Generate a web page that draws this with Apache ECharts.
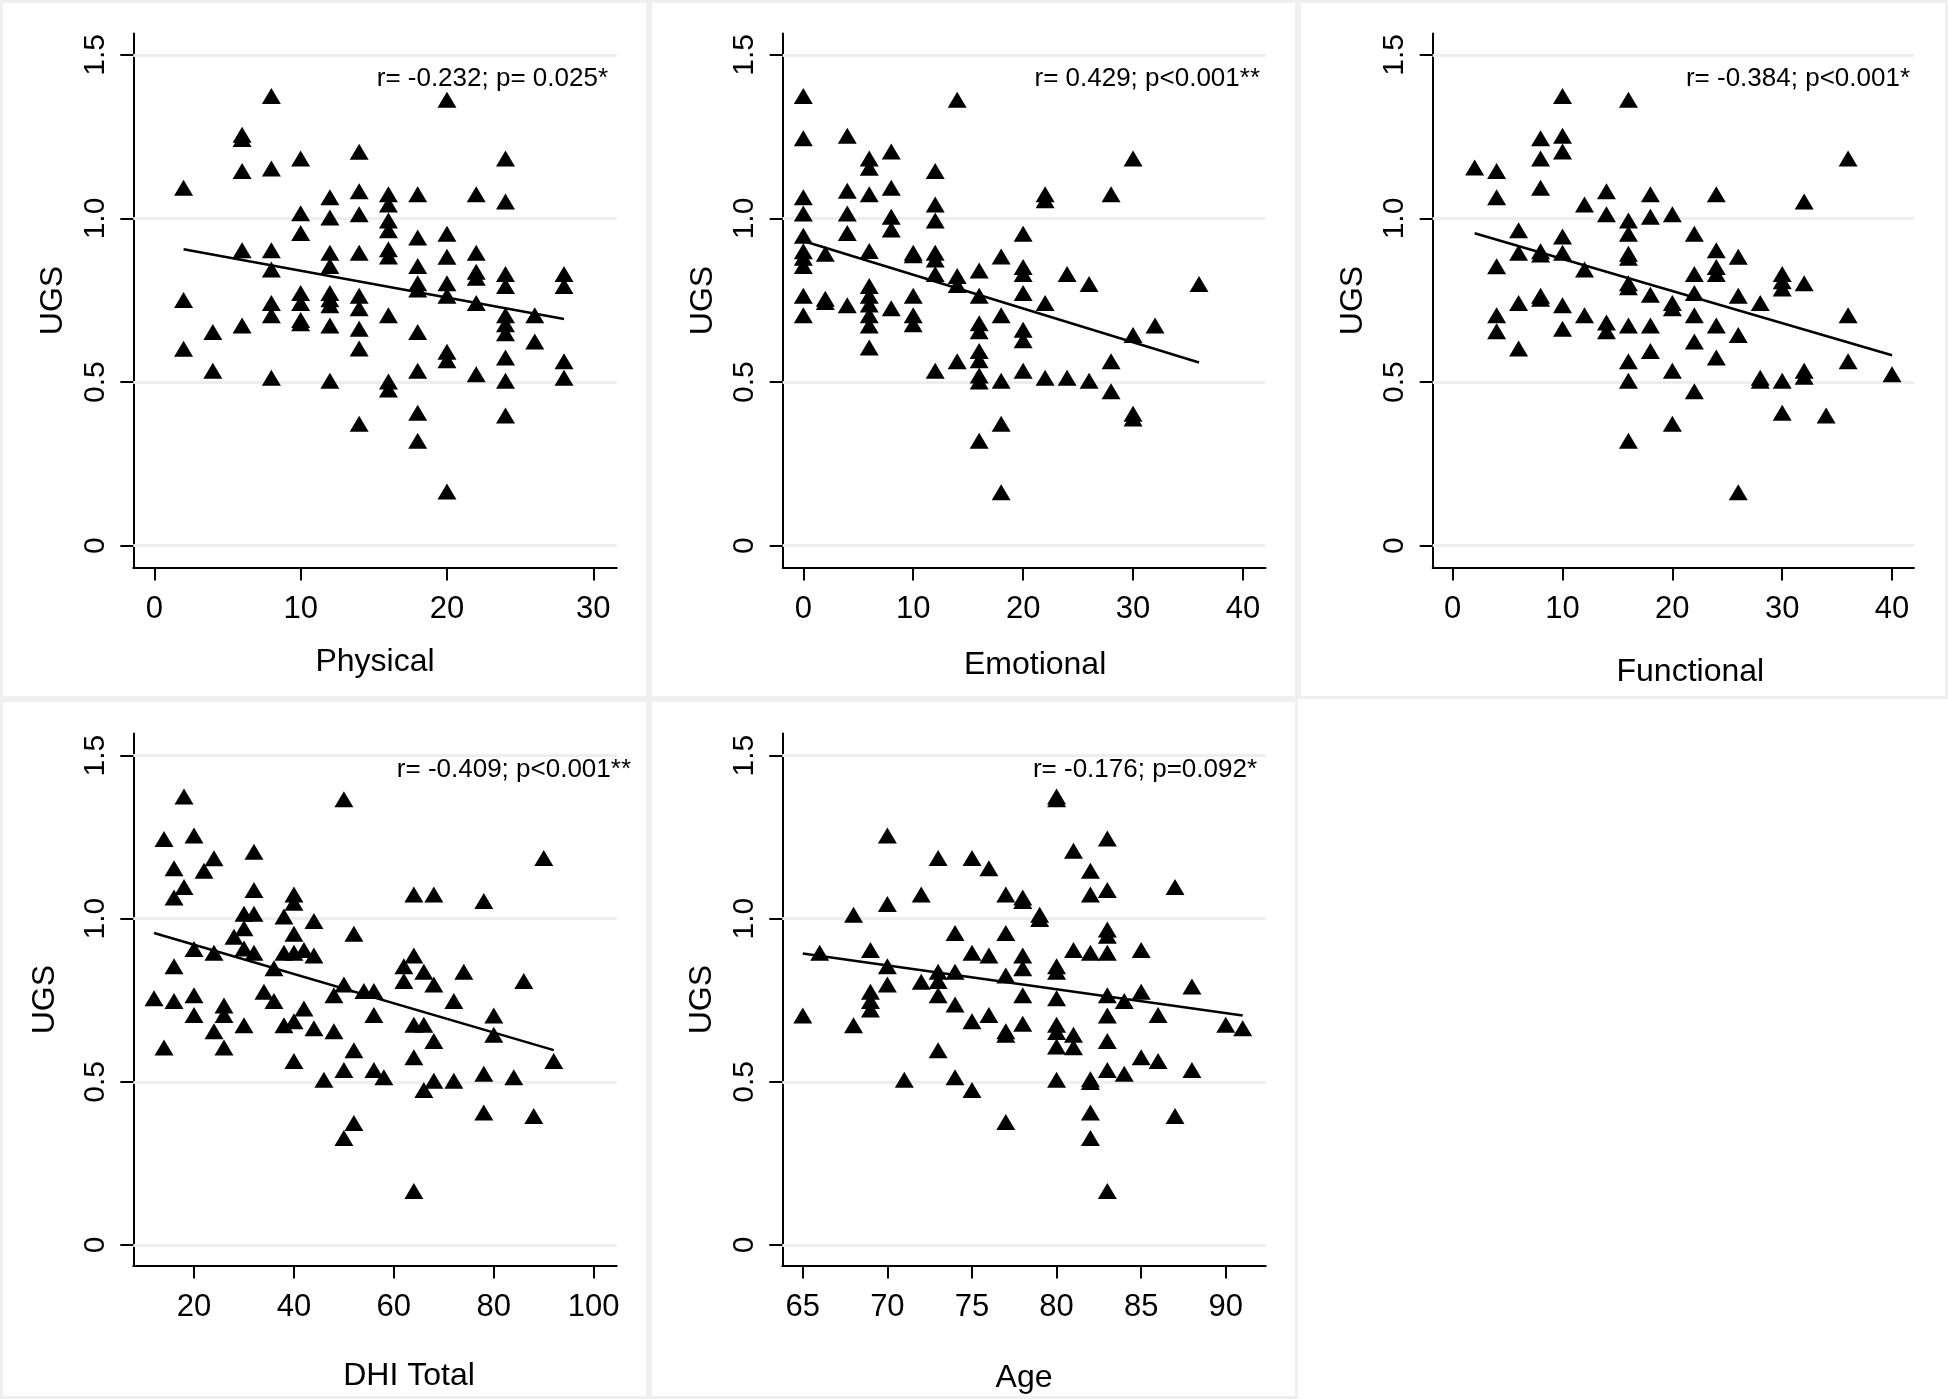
<!DOCTYPE html>
<html>
<head>
<meta charset="utf-8">
<script src="https://cdn.jsdelivr.net/npm/echarts@6/dist/echarts.min.js"></script>
<style>
html,body{margin:0;padding:0;background:#fff;}
#main{width:1948px;height:1399px;}
</style>
</head>
<body>
<div id="main"></div>
<script>
var FONT = '"Liberation Sans", Arial, Helvetica, sans-serif';
var yTicks = [0, 0.5, 1.0, 1.5];

// Physical
var physCols = [2, 4, 6, 8, 10, 12, 14, 16, 18, 20, 22, 24, 26, 28];
var physVals = [
  [1.094, 0.751, 0.602],
  [0.653, 0.535],
  [1.256, 1.243, 1.145, 0.903, 0.673],
  [1.374, 1.153, 0.903, 0.844, 0.742, 0.704, 0.513],
  [1.183, 1.016, 0.956, 0.772, 0.742, 0.690, 0.680],
  [1.065, 1.003, 0.895, 0.855, 0.772, 0.753, 0.735, 0.673, 0.504],
  [1.204, 1.083, 1.013, 0.895, 0.764, 0.726, 0.663, 0.603, 0.373],
  [1.074, 1.043, 0.994, 0.964, 0.906, 0.884, 0.704, 0.502, 0.477],
  [1.074, 0.942, 0.855, 0.802, 0.783, 0.653, 0.535, 0.406, 0.321],
  [1.363, 0.953, 0.883, 0.802, 0.764, 0.593, 0.567, 0.166],
  [1.074, 0.895, 0.837, 0.819, 0.742, 0.524],
  [1.183, 1.052, 0.830, 0.794, 0.704, 0.677, 0.649, 0.575, 0.504, 0.398],
  [0.704, 0.624],
  [0.830, 0.794, 0.564, 0.513]
];
var physFitX = [2, 28];
var physFitY = [0.906, 0.693];
var physTicks = [0, 10, 20, 30];

// Emotional
var emoCols = [0, 2, 4, 6, 8, 10, 12, 14, 16, 18, 20, 22, 24, 26, 28, 30, 32, 36];
var emoVals = [
  [1.374, 1.245, 1.065, 1.015, 0.947, 0.900, 0.880, 0.855, 0.764, 0.704],
  [0.892, 0.755, 0.745],
  [1.253, 1.085, 1.015, 0.956, 0.735],
  [1.183, 1.155, 1.074, 0.901, 0.794, 0.764, 0.737, 0.704, 0.673, 0.606],
  [1.205, 1.094, 1.005, 0.966, 0.726],
  [0.895, 0.888, 0.764, 0.704, 0.677],
  [1.145, 1.043, 0.994, 0.895, 0.875, 0.830, 0.535],
  [1.363, 0.824, 0.797, 0.564],
  [0.841, 0.764, 0.680, 0.655, 0.595, 0.567, 0.520, 0.502, 0.321],
  [0.884, 0.704, 0.504, 0.373, 0.163],
  [0.953, 0.852, 0.830, 0.772, 0.660, 0.628, 0.535],
  [1.074, 1.056, 0.742, 0.513],
  [0.830, 0.513],
  [0.800, 0.504],
  [1.074, 0.564, 0.472],
  [1.183, 0.644, 0.403, 0.389],
  [0.673],
  [0.800]
];
var emoFitX = [0, 36];
var emoFitY = [0.931, 0.560];
var emoTicks = [0, 10, 20, 30, 40];

// Functional
var funCols = [2, 4, 6, 8, 10, 12, 14, 16, 18, 20, 22, 24, 26, 28, 30, 32, 34, 36, 40];
var funVals = [
  [1.156],
  [1.145, 1.065, 0.854, 0.704, 0.655],
  [0.964, 0.895, 0.742, 0.603],
  [1.245, 1.183, 1.094, 0.900, 0.890, 0.764, 0.755],
  [1.374, 1.253, 1.205, 0.945, 0.895, 0.735, 0.663],
  [1.043, 0.844, 0.704],
  [1.083, 1.013, 0.682, 0.655],
  [1.363, 0.994, 0.953, 0.892, 0.880, 0.802, 0.790, 0.673, 0.564, 0.504, 0.321],
  [1.074, 1.005, 0.767, 0.673, 0.595],
  [1.013, 0.742, 0.726, 0.535, 0.373],
  [0.953, 0.830, 0.772, 0.704, 0.624, 0.472],
  [1.074, 0.903, 0.852, 0.830, 0.673, 0.575],
  [0.883, 0.764, 0.644, 0.163],
  [0.742, 0.513, 0.504],
  [0.830, 0.808, 0.786, 0.504, 0.406],
  [1.052, 0.802, 0.535, 0.516],
  [0.398],
  [1.183, 0.704, 0.564],
  [0.524]
];
var funFitX = [2, 40];
var funFitY = [0.955, 0.582];
var funTicks = [0, 10, 20, 30, 40];

// DHI Total
var dhiCols = [12, 14, 16, 18, 20, 22, 24, 26, 28, 30, 32, 34, 36, 38, 40, 42, 44, 46, 48, 50,
  52, 54, 56, 58, 62, 64, 66, 68, 72, 74, 78, 80, 84, 86, 88, 90, 92];
var dhiVals = [
  [0.756],
  [1.244, 0.605],
  [1.155, 1.065, 0.854, 0.748],
  [1.375, 1.097],
  [1.255, 0.907, 0.765, 0.705],
  [1.147],
  [1.185, 0.896, 0.655],
  [0.734, 0.705, 0.605],
  [0.945],
  [1.015, 0.971, 0.909, 0.673],
  [1.205, 1.088, 1.015, 0.896],
  [0.776],
  [0.848, 0.748],
  [1.007, 0.896, 0.673],
  [1.074, 1.049, 0.954, 0.896, 0.686, 0.564],
  [0.904, 0.725],
  [0.993, 0.887, 0.664],
  [0.506],
  [0.765, 0.655],
  [1.366, 0.798, 0.536, 0.328],
  [0.954, 0.597, 0.374],
  [0.778],
  [0.778, 0.705, 0.536],
  [0.514],
  [0.854, 0.809],
  [1.074, 0.887, 0.675, 0.575, 0.165],
  [0.837, 0.675, 0.475],
  [1.074, 0.798, 0.625, 0.503],
  [0.748, 0.503],
  [0.837],
  [1.054, 0.525, 0.406],
  [0.703, 0.644],
  [0.514],
  [0.809],
  [0.395],
  [1.186],
  [0.564]
];
var dhiFitX = [12, 92];
var dhiFitY = [0.956, 0.597];
var dhiTicks = [20, 40, 60, 80, 100];

// Age
var ageCols = [65, 66, 68, 69, 70, 71, 72, 73, 74, 75, 76, 77, 78, 79, 80, 81, 82, 83, 84, 85, 86, 87, 88, 90, 91];
var ageVals = [
  [0.703],
  [0.896],
  [1.012, 0.673],
  [0.904, 0.776, 0.748, 0.722],
  [1.255, 1.045, 0.854, 0.798],
  [0.506],
  [1.074, 0.807],
  [1.186, 0.837, 0.809, 0.765, 0.597],
  [0.956, 0.837, 0.737, 0.514],
  [1.186, 0.896, 0.686, 0.475],
  [1.155, 0.887, 0.705],
  [1.074, 0.956, 0.826, 0.655, 0.644, 0.377],
  [1.065, 1.054, 0.887, 0.848, 0.765, 0.678],
  [1.012, 0.999],
  [1.375, 1.366, 0.854, 0.837, 0.756, 0.675, 0.653, 0.608, 0.506],
  [1.208, 0.904, 0.644, 0.606],
  [1.147, 1.074, 0.896, 0.508, 0.499, 0.406, 0.328],
  [1.246, 1.088, 0.967, 0.948, 0.896, 0.765, 0.703, 0.625, 0.536, 0.165],
  [0.748, 0.525],
  [0.904, 0.776, 0.575],
  [0.705, 0.564],
  [1.097, 0.395],
  [0.792, 0.536],
  [0.675],
  [0.664]
];
var ageFitX = [65, 91];
var ageFitY = [0.893, 0.703];
var ageTicks = [65, 70, 75, 80, 85, 90];

var panels = [
  {title:'Physical', cols:physCols, vals:physVals, fx:physFitX, fy:physFitY, ticks:physTicks,
   note:'r= -0.232; p= 0.025*', left:133.3, top:33.6, width:483.4, height:533.9,
   xmin:-1.435, xmax:31.6, ymin:-0.0666, ymax:1.565, nameGap:79, nameShift:0, yGap:64, noteX:608, noteY:79},
  {title:'Emotional', cols:emoCols, vals:emoVals, fx:emoFitX, fy:emoFitY, ticks:emoTicks,
   note:'r= 0.429; p<0.001**', left:782.7, top:33.6, width:482.8, height:533.9,
   xmin:-1.875, xmax:42.05, ymin:-0.0666, ymax:1.565, nameGap:82, nameShift:11, yGap:64, noteX:1260, noteY:79},
  {title:'Functional', cols:funCols, vals:funVals, fx:funFitX, fy:funFitY, ticks:funTicks,
   note:'r= -0.384; p<0.001*', left:1432.7, top:33.6, width:481.3, height:533.9,
   xmin:-1.82, xmax:42.0, ymin:-0.0666, ymax:1.565, nameGap:89, nameShift:17, yGap:64, noteX:1910, noteY:79},
  {title:'DHI Total', cols:dhiCols, vals:dhiVals, fx:dhiFitX, fy:dhiFitY, ticks:dhiTicks,
   note:'r= -0.409; p<0.001**', left:133.3, top:733.6, width:483.4, height:532,
   xmin:7.85, xmax:104.6, ymin:-0.0635, ymax:1.5675, nameGap:95, nameShift:34, yGap:72, noteX:631, noteY:770},
  {title:'Age', cols:ageCols, vals:ageVals, fx:ageFitX, fy:ageFitY, ticks:ageTicks,
   note:'r= -0.176; p=0.092*', left:782.3, top:733.6, width:483.4, height:532,
   xmin:63.79, xmax:92.36, ymin:-0.0635, ymax:1.5675, nameGap:97, nameShift:0, yGap:64, noteX:1257, noteY:770}
];

var cells = [[0,0,649,699],[649,0,649,699],[1298,0,650,699],[0,699,649,700],[649,699,649,700]];

var grids = [], xAxes = [], yAxes = [], series = [], graphics = [];

cells.forEach(function(c){
  graphics.push({type:'rect', shape:{x:c[0]+1.5, y:c[1]+1.5, width:c[2]-3, height:c[3]-3}, z:-10,
    style:{fill:null, stroke:'#efefef', lineWidth:3}, silent:true});
});

panels.forEach(function(p, i){
  grids.push({left:p.left, top:p.top, width:p.width, height:p.height, containLabel:false});
  xAxes.push({
    type:'value', gridIndex:i, min:p.xmin, max:p.xmax,
    name:p.title, nameLocation:'middle', nameGap:p.nameGap,
    nameTextStyle:{fontFamily:FONT, fontSize:32, color:'#000', padding:[0, 0, 0, 2 * p.nameShift]},
    axisLine:{show:true, onZero:false, lineStyle:{color:'#000', width:2}},
    axisTick:{show:true, inside:false, length:13, customValues:p.ticks, lineStyle:{color:'#000', width:2}},
    axisLabel:{customValues:p.ticks, margin:26, fontFamily:FONT, fontSize:31, color:'#000'},
    splitLine:{show:false}
  });
  yAxes.push({
    type:'value', gridIndex:i, min:p.ymin, max:p.ymax,
    name:'UGS', nameLocation:'middle', nameGap:p.yGap, nameRotate:90,
    nameTextStyle:{fontFamily:FONT, fontSize:32, color:'#000'},
    axisLine:{show:true, onZero:false, lineStyle:{color:'#000', width:2}},
    axisTick:{show:true, inside:false, length:13, customValues:yTicks, lineStyle:{color:'#000', width:2}},
    axisLabel:{customValues:yTicks, rotate:90, margin:23, fontFamily:FONT, fontSize:30, color:'#000',
      formatter:function(v){ return v === 0 ? '0' : v.toFixed(1); }},
    splitLine:{show:false}
  });

  var pts = [];
  p.cols.forEach(function(x, k){
    p.vals[k].forEach(function(y){ pts.push([x, y]); });
  });

  // horizontal grid lines at the y ticks
  series.push({
    type:'line', xAxisIndex:i, yAxisIndex:i, data:[], z:1, silent:true,
    markLine:{silent:true, z:1, symbol:['none','none'], label:{show:false},
      lineStyle:{color:'#eeeeee', width:3, type:'solid'},
      emphasis:{disabled:true},
      data:yTicks.map(function(v){ return {yAxis:v}; })}
  });
  series.push({
    type:'scatter', xAxisIndex:i, yAxisIndex:i, data:pts, z:3,
    symbol:'triangle', symbolSize:[19,16], itemStyle:{color:'#000', opacity:1}
  });
  series.push({
    type:'line', xAxisIndex:i, yAxisIndex:i, z:4,
    data:[[p.fx[0], p.fy[0]], [p.fx[1], p.fy[1]]],
    showSymbol:false, symbol:'none', lineStyle:{color:'#000', width:2.5}
  });

  graphics.push({type:'text', x:p.noteX, y:p.noteY, z:10, silent:true,
    style:{text:p.note, align:'right', verticalAlign:'middle', fill:'#000',
      font:'26px ' + FONT}});
});

var myChart = echarts.init(document.getElementById('main'));
var option = {
  backgroundColor:'#ffffff',
  animation:false,
  tooltip:{show:false},
  grid:grids,
  xAxis:xAxes,
  yAxis:yAxes,
  series:series,
  graphic:graphics
};
myChart.setOption(option);
</script>
</body>
</html>
